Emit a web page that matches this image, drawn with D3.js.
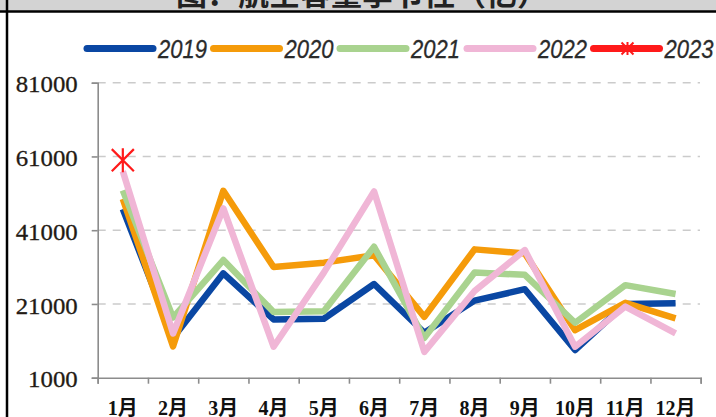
<!DOCTYPE html>
<html>
<head>
<meta charset="utf-8">
<script src="https://cdn.jsdelivr.net/npm/d3@7"></script>
<style>
  html, body { margin: 0; padding: 0; background: #fff; }
  svg { display: block; }
</style>
</head>
<body>
<div id="chart"></div>
<script>
const months = ['1月', '2月', '3月', '4月', '5月', '6月', '7月', '8月', '9月', '10月', '11月', '12月'];
const years = ['2019', '2020', '2021', '2022', '2023'];
const yTicks = [1000, 21000, 41000, 61000, 81000];

const s2019 = [46700, 11800, 29300, 16800, 17000, 26400, 13200, 21900, 25000, 8500, 21000, 21200];
const s2020 = [49500, 9500, 51700, 31000, 32200, 34200, 17500, 35800, 34700, 13900, 21300, 17100];
const s2021 = [51800, 17300, 32900, 18800, 19000, 36500, 11800, 29500, 28900, 15900, 26100, 23700];
const s2022 = [57000, 13000, 46900, 9400, 29500, 51500, 8000, 24500, 35600, 9400, 20300, 13000];
const s2023 = [60000];

const colors = ['#0a47a3', '#f59b0a', '#a9d38f', '#f0b6d6', '#ff1a1a'];
const seriesList = [s2019, s2020, s2021, s2022, s2023];

const width = 716;
const height = 417;

const svg = d3.select('#chart')
  .append('svg')
  .attr('width', width)
  .attr('height', height);

// title strip (cut off at the top)
svg.append('rect')
  .attr('x', 0).attr('y', 0)
  .attr('width', width).attr('height', 11)
  .attr('fill', '#d3d3d3');

svg.append('text')
  .attr('x', 362)
  .attr('y', 5)
  .attr('text-anchor', 'middle')
  .attr('font-family', '"Noto Sans CJK SC", sans-serif')
  .attr('font-weight', 'bold')
  .attr('font-size', 31)
  .attr('fill', '#222')
  .text('图：航空客量季节性（亿）');

svg.append('line')
  .attr('x1', 0).attr('x2', width)
  .attr('y1', 11.5).attr('y2', 11.5)
  .attr('stroke', '#000').attr('stroke-width', 2.5);

svg.append('line')
  .attr('x1', 7).attr('x2', 7)
  .attr('y1', 0).attr('y2', height)
  .attr('stroke', '#000').attr('stroke-width', 2.5);

// scales
const x = d3.scaleBand()
  .domain(months)
  .range([97.7, 700.7]);

const xEdge = d3.scaleLinear()
  .domain([0, 12])
  .range([97.7, 700.7]);

const y = d3.scaleLinear()
  .domain([1000, 81000])
  .range([377.7, 82.7]);

// grid lines
svg.append('g')
  .selectAll('line')
  .data(yTicks.slice(1))
  .enter()
  .append('line')
  .attr('x1', 97.7)
  .attr('x2', 700)
  .attr('y1', (d) => y(d))
  .attr('y2', (d) => y(d))
  .attr('stroke', '#cbcbcb')
  .attr('stroke-width', 1.6)
  .attr('stroke-dasharray', '8,7');

// y axis
const yAxis = svg.append('g')
  .attr('transform', 'translate(97.7,0)')
  .call(d3.axisLeft(y).tickValues(yTicks).tickSize(6).tickPadding(14).tickFormat(d3.format('d')));

yAxis.select('.domain').attr('stroke', '#8c8c8c').attr('stroke-width', 1.6);
yAxis.selectAll('.tick line').attr('stroke', '#8c8c8c').attr('stroke-width', 1.6);
yAxis.selectAll('.tick text')
  .attr('font-family', '"Liberation Serif", "Times New Roman", serif')
  .attr('font-size', 23)
  .attr('fill', '#231a14')
  .attr('stroke', '#231a14')
  .attr('stroke-width', 0.3)
  .attr('dy', '0.4em')
  .attr('textLength', (d) => String(d).length * 12.4)
  .attr('lengthAdjust', 'spacingAndGlyphs');

// x axis
const xAxis = svg.append('g')
  .attr('transform', 'translate(0,377.7)')
  .call(d3.axisBottom(xEdge).ticks(12).tickSize(6).tickFormat(''));

xAxis.select('.domain').attr('stroke', '#8c8c8c').attr('stroke-width', 1.6);
xAxis.selectAll('.tick line').attr('stroke', '#8c8c8c').attr('stroke-width', 1.6);

svg.append('g')
  .selectAll('text')
  .data(months)
  .enter()
  .append('text')
  .attr('x', (d) => x(d) + x.bandwidth() / 2)
  .attr('y', 414.5)
  .attr('text-anchor', 'middle')
  .attr('font-family', '"Liberation Serif", "Noto Sans CJK SC", serif')
  .attr('font-weight', 'bold')
  .attr('font-size', 20)
  .attr('fill', '#111')
  .text((d) => d);

// lines
const line = d3.line()
  .x((d, i) => x(months[i]) + x.bandwidth() / 2)
  .y((d) => y(d));

seriesList.slice(0, 4).forEach((s, k) => {
  svg.append('path')
    .datum(s)
    .attr('d', line)
    .attr('fill', 'none')
    .attr('stroke', colors[k])
    .attr('stroke-width', 6.5)
    .attr('stroke-linejoin', 'round')
    .attr('stroke-linecap', 'butt');
});

function starPath(cx, cy, r) {
  const a = r * 0.92;
  return `M${cx - a},${cy - a}L${cx + a},${cy + a}` +
    `M${cx - a},${cy + a}L${cx + a},${cy - a}` +
    `M${cx},${cy - r}L${cx},${cy + r}`;
}

svg.append('g')
  .selectAll('path')
  .data(s2023)
  .enter()
  .append('path')
  .attr('d', (d, i) => starPath(x(months[i]) + x.bandwidth() / 2, y(d), 12))
  .attr('stroke', colors[4])
  .attr('stroke-width', 2.2)
  .attr('fill', 'none');

// legend
const legendX = [87, 213.5, 340, 467, 593.5];
const legendY = 48.5;

const legend = svg.append('g')
  .selectAll('g')
  .data(years)
  .enter()
  .append('g')
  .attr('transform', (d, i) => `translate(${legendX[i]},${legendY})`);

legend.append('line')
  .attr('x1', 0).attr('x2', 66)
  .attr('y1', 0).attr('y2', 0)
  .attr('stroke', (d, i) => colors[i])
  .attr('stroke-width', 7)
  .attr('stroke-linecap', 'round');

legend.filter((d, i) => i === 4)
  .append('path')
  .attr('d', starPath(34, 0, 6.5))
  .attr('stroke', colors[4])
  .attr('stroke-width', 2)
  .attr('fill', 'none');

legend.append('text')
  .attr('transform', 'translate(71,9) scale(0.88,1)')
  .attr('font-family', '"Liberation Sans", Arial, sans-serif')
  .attr('font-style', 'italic')
  .attr('font-size', 25)
  .attr('fill', '#2b2b2b')
  .attr('stroke', '#2b2b2b')
  .attr('stroke-width', 0.3)
  .text((d) => d);
</script>
</body>
</html>
